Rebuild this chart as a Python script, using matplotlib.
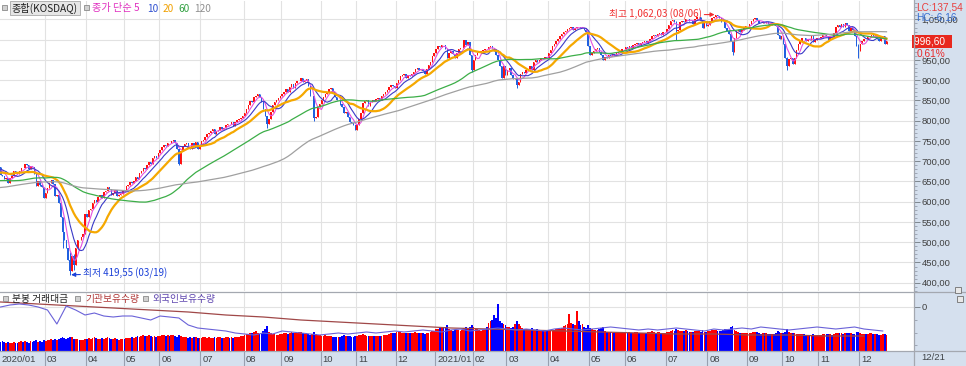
import numpy as np
import pandas as pd
import matplotlib
matplotlib.use("Agg")
import matplotlib.pyplot as plt
from matplotlib.patches import Rectangle
from matplotlib.lines import Line2D
from matplotlib.ticker import MultipleLocator, FixedLocator
from matplotlib import font_manager as fm

plt.rcParams['font.family'] = ['Noto Sans CJK KR', 'DejaVu Sans']

# ---------------- data ----------------
# closes before the first visible day (used only for the moving averages)
pre_2019_08 = [616, 615, 585, 551, 569, 568, 583, 592, 588, 578, 590, 593, 605, 612, 611, 610, 603, 584, 595, 593, 592, 602]
pre_2019_09 = [608, 615, 620, 626, 628, 630, 634, 640, 643, 635, 640, 644, 641, 633, 625, 620, 622, 627, 622]
pre_2019_10 = [613, 609, 605, 614, 618, 625, 630, 633, 640, 645, 648, 643, 645, 650, 652, 656, 660, 662, 655, 650, 652]
pre_2019_11 = [662, 667, 670, 668, 664, 661, 660, 658, 656, 650, 645, 641, 635, 638, 632, 625, 622, 628, 633, 630, 631]
pre_2019_12 = [630, 620, 615, 618, 622, 625, 628, 632, 635, 638, 640, 643, 645, 648, 652, 658, 661, 665, 668, 670]
pre_2020_01 = [674, 669, 655, 663, 640, 667, 668, 676, 680, 676, 683, 686, 683, 679, 684, 686]

# daily closes, 2020-01-28 .. 2021-12-21
c2001 = [665, 664, 655, 658]
c2002 = [645, 658, 663, 675, 672, 669, 676, 683, 682, 692, 690, 680, 688, 685, 668, 639, 651, 640, 636, 610]
c2003 = [621, 635, 646, 654, 643, 614, 617, 596, 563, 524, 505, 485, 456, 428, 467, 443, 486, 506, 505, 513, 520, 569]
c2004 = [562, 579, 581, 596, 604, 599, 612, 617, 609, 623, 626, 636, 632, 616, 622, 629, 613, 617, 619, 629]
c2005 = [628, 638, 641, 649, 645, 652, 660, 657, 670, 676, 683, 680, 691, 697, 694, 708, 712, 708, 720]
c2006 = [728, 734, 741, 737, 745, 744, 750, 752, 744, 731, 694, 725, 738, 742, 745, 733, 729, 744, 738, 748, 729, 738]
c2007 = [750, 752, 760, 767, 770, 775, 779, 768, 774, 778, 785, 779, 782, 789, 793, 791, 798, 787, 797, 801, 804, 806, 811]
c2008 = [818, 830, 838, 848, 845, 858, 862, 866, 858, 846, 830, 812, 792, 804, 822, 838, 846, 850, 856, 862]
c2009 = [866, 870, 878, 872, 884, 890, 880, 892, 897, 899, 905, 896, 897, 903, 886, 860, 862, 806, 808, 833, 842]
c2010 = [850, 858, 866, 872, 878, 880, 870, 858, 850, 852, 840, 834, 818, 822, 808, 798, 795, 790, 776]
c2011 = [790, 803, 818, 843, 848, 851, 837, 846, 851, 849, 853, 855, 852, 860, 866, 870, 875, 882, 888, 885, 880]
c2012 = [894, 900, 910, 913, 916, 906, 912, 910, 915, 920, 927, 931, 926, 928, 922, 916, 928, 937, 946, 960, 968]
c2101 = [977, 985, 981, 988, 987, 976, 955, 967, 973, 964, 954, 966, 977, 979, 979, 999, 987, 994, 963, 925]
c2102 = [950, 962, 966, 968, 972, 975, 978, 977, 982, 984, 979, 972, 962, 950, 936, 906, 936, 913]
c2103 = [924, 929, 912, 903, 905, 888, 896, 916, 921, 918, 925, 927, 936, 926, 946, 951, 944, 950, 955, 954, 958, 956]
c2104 = [966, 975, 984, 990, 996, 1002, 1008, 1014, 1018, 1022, 1026, 1029, 1031, 1024, 1030, 1032, 1031, 1028, 1030, 1024, 1020, 984]
c2105 = [962, 967, 972, 976, 980, 970, 963, 951, 958, 956, 962, 960, 965, 961, 966, 970, 972, 976, 977]
c2106 = [982, 980, 984, 979, 987, 989, 991, 988, 992, 994, 996, 993, 997, 1002, 1008, 1012, 1010, 1014, 1016, 1012, 1018, 1020]
c2107 = [1027, 1036, 1045, 1048, 1044, 1022, 1024, 1043, 1047, 1044, 1052, 1051, 1045, 1047, 1039, 1051, 1055, 1055, 1047, 1029, 1044, 1035]
c2108 = [1036, 1047, 1054, 1056, 1060, 1058, 1053, 1044, 1043, 1029, 1021, 1015, 996, 970, 1004, 1021, 1025, 1018, 1025, 1031, 1033]
c2109 = [1034, 1038, 1045, 1050, 1053, 1049, 1041, 1040, 1044, 1040, 1043, 1039, 1036, 1041, 1037, 1035, 1012, 1002, 1010]
c2110 = [990, 956, 936, 952, 955, 940, 956, 975, 990, 998, 1004, 1003, 996, 1002, 1000, 1008, 995, 1000, 1003]
c2111 = [1004, 1006, 1012, 1013, 1008, 1000, 1007, 1005, 1016, 1032, 1037, 1031, 1039, 1032, 1041, 1036, 1022, 1030, 1023, 1010, 985, 972]
c2112 = [990, 996, 1002, 1001, 1006, 1008, 1012, 1008, 1011, 1001, 998, 1004, 1008, 990.6, 996.6]

# notable intraday extremes (date, high, low)
wick_dates = ['2020-03-13', '2020-03-19', '2020-03-23', '2020-06-15', '2020-08-20', '2020-09-24',
              '2021-01-29', '2021-03-09', '2021-07-08', '2021-08-06', '2021-08-20', '2021-10-06', '2021-11-30']
wick_highs = [560, 476, 470, 730, 812, 835, 962, 903, 1045, 1062.03, 996, 957, 990]
wick_lows = [485, 419.55, 432, 690, 781, 800, 920, 880, 1000, 1055, 962, 926, 955]

# trading value (relative units)
v2001 = [9, 10, 9, 8]
v2002 = [9, 8, 8, 9, 8, 8, 9, 10, 9, 10, 9, 8, 10, 9, 10, 11, 9, 10, 9, 11]
v2003 = [10, 11, 11, 12, 11, 12, 11, 12, 13, 14, 13, 12, 13, 14, 14, 12, 12, 12, 11, 11, 11, 12]
v2004 = [12, 13, 12, 13, 14, 13, 12, 12, 13, 12, 13, 14, 13, 12, 12, 13, 12, 11, 12, 12]
v2005 = [12, 13, 13, 13, 14, 13, 14, 15, 14, 15, 16, 15, 15, 16, 15, 14, 15, 14, 15]
v2006 = [15, 16, 16, 15, 16, 15, 16, 16, 15, 14, 16, 15, 14, 14, 14, 13, 14, 13, 14, 14, 13, 13]
v2007 = [13, 14, 14, 13, 14, 13, 13, 14, 13, 14, 14, 13, 13, 14, 14, 13, 14, 13, 14, 14, 14, 15, 15]
v2008 = [16, 17, 17, 18, 18, 19, 20, 18, 17, 18, 20, 22, 25, 19, 18, 17, 17, 16, 16, 17]
v2009 = [17, 18, 18, 17, 18, 19, 18, 18, 18, 19, 19, 18, 17, 18, 17, 16, 17, 19, 17, 16, 16]
v2010 = [15, 15, 16, 15, 15, 15, 14, 14, 14, 14, 14, 15, 16, 15, 15, 15, 14, 14, 15]
v2011 = [15, 16, 16, 17, 16, 15, 15, 15, 15, 15, 15, 15, 15, 15, 16, 16, 16, 17, 18, 18, 18]
v2012 = [19, 19, 19, 18, 18, 18, 18, 18, 18, 18, 19, 18, 18, 18, 18, 17, 18, 18, 19, 20, 20]
v2101 = [22, 22, 23, 24, 23, 24, 26, 22, 21, 20, 21, 21, 21, 20, 21, 23, 24, 22, 24, 26]
v2102 = [24, 22, 22, 21, 20, 21, 22, 24, 28, 30, 31, 36, 33, 47, 30, 28, 27, 26]
v2103 = [24, 24, 23, 24, 27, 30, 27, 25, 23, 22, 22, 22, 22, 23, 21, 21, 22, 20, 20, 21, 20, 20]
v2104 = [21, 21, 20, 21, 22, 22, 22, 23, 25, 26, 27, 37, 28, 27, 26, 40, 30, 26, 27, 24, 23, 26]
v2105 = [23, 22, 21, 21, 21, 22, 23, 24, 20, 19, 19, 19, 18, 18, 18, 18, 18, 18, 18]
v2106 = [18, 18, 19, 18, 18, 19, 19, 18, 18, 18, 18, 18, 19, 19, 20, 19, 18, 19, 19, 18, 18, 18]
v2107 = [19, 19, 20, 21, 20, 22, 21, 20, 20, 20, 21, 20, 19, 19, 19, 20, 20, 20, 19, 21, 19, 19]
v2108 = [20, 20, 21, 21, 21, 20, 20, 20, 21, 22, 22, 22, 24, 25, 21, 20, 19, 18, 18, 18, 18]
v2109 = [18, 18, 18, 19, 19, 19, 18, 17, 18, 18, 18, 17, 17, 17, 17, 18, 20, 19, 18]
v2110 = [18, 19, 22, 19, 18, 18, 18, 17, 17, 17, 17, 17, 16, 16, 16, 16, 17, 16, 16]
v2111 = [16, 16, 17, 17, 17, 17, 17, 16, 17, 18, 18, 18, 18, 17, 18, 18, 18, 18, 17, 17, 19, 19]
v2112 = [18, 17, 17, 17, 17, 18, 18, 17, 17, 17, 16, 16, 17, 17, 16]

# foreign holdings, sampled every 5 trading days (relative units)
foreign_step = 5
foreign_hold = [44, 46, 47, 46, 44, 41, 27, 45, 41, 36, 38, 35, 34, 35, 35, 33, 31, 35, 34, 33,
                26, 23, 22, 21, 20, 18, 17, 16, 18, 17, 20, 19, 18,
                17, 16, 17, 18, 17, 18, 19, 18, 19, 20, 19, 20, 21, 20, 19, 21, 22, 20, 21, 22,
                23, 22, 21, 22, 21, 20, 22, 23, 22, 21, 22, 23, 24, 23, 22, 21, 22, 21, 22, 23,
                22, 21, 20, 22, 21, 22, 23, 22, 24, 23, 22, 21, 22, 23, 24, 23, 22, 23, 24, 22, 21, 20]
# institutional holdings, sampled every 20 trading days (relative units)
inst_step = 20
inst_hold = [49, 47, 45, 43, 41, 39, 36, 34, 31, 29, 27, 25, 23, 22, 21, 20, 19, 18, 17, 17, 16, 16, 15, 15]

holidays = ['2020-04-15', '2020-04-30', '2020-05-01', '2020-05-05', '2020-08-17', '2020-09-30',
            '2020-10-01', '2020-10-02', '2020-10-09', '2020-12-25', '2020-12-31',
            '2021-01-01', '2021-02-11', '2021-02-12', '2021-03-01', '2021-05-05', '2021-05-19',
            '2021-08-16', '2021-09-20', '2021-09-21', '2021-09-22', '2021-10-04', '2021-10-11']

ma_periods = [5, 10, 20, 60, 120]
ma_colors = ['#e650e0', '#3a3ac8', '#f5a800', '#3cae48', '#a0a0a0']
ma_widths = [0.8, 0.8, 1.6, 0.9, 0.9]

# ---------------- assemble ----------------
pre = pre_2019_08 + pre_2019_09 + pre_2019_10 + pre_2019_11 + pre_2019_12 + pre_2020_01
close_l = (c2001 + c2002 + c2003 + c2004 + c2005 + c2006 + c2007 + c2008 + c2009 + c2010 + c2011 + c2012 +
           c2101 + c2102 + c2103 + c2104 + c2105 + c2106 + c2107 + c2108 + c2109 + c2110 + c2111 + c2112)
vol_l = (v2001 + v2002 + v2003 + v2004 + v2005 + v2006 + v2007 + v2008 + v2009 + v2010 + v2011 + v2012 +
         v2101 + v2102 + v2103 + v2104 + v2105 + v2106 + v2107 + v2108 + v2109 + v2110 + v2111 + v2112)

dates = pd.bdate_range('2020-01-28', '2021-12-21')
dates = dates[~dates.isin(pd.to_datetime(holidays))]
N = min(len(dates), len(close_l))
dates = dates[:N]
close = np.array(close_l[:N], dtype=float)
vol = np.array((vol_l + [0] * N)[:N], dtype=float)
x = np.arange(N)

opn = np.r_[pre[-1], close[:-1]]
high = np.maximum(opn, close)
low = np.minimum(opn, close)
for d, h, l in zip(wick_dates, wick_highs, wick_lows):
    k = np.where(dates == pd.Timestamp(d))[0]
    if len(k):
        k = k[0]
        high[k] = max(high[k], h)
        low[k] = min(low[k], l)

full = pd.Series(pre + list(close))
mas = [full.rolling(p).mean().values[len(pre):] for p in ma_periods]

# ---------------- figure ----------------
W, H, DPI = 966, 366, 100
fig = plt.figure(figsize=(W / DPI, H / DPI), dpi=DPI)
fig.patch.set_facecolor('white')

names = {f.name for f in fm.fontManager.ttflist}
NUMF = 'Liberation Sans Narrow' if 'Liberation Sans Narrow' in names else 'Liberation Sans'
NUMS = 8 if NUMF == 'Liberation Sans Narrow' else 6.8

def fx(px):
    return px / W

def fy(py):
    return 1 - py / H

PANEL = '#d5e0ee'
GRID = '#e2e2e2'
UP, DN = '#ff1010', '#2060e0'
LINEC = '#a4a8b0'

fig.patches.append(Rectangle((fx(914), 0), 1 - fx(914), 1, transform=fig.transFigure,
                             facecolor=PANEL, edgecolor='none', zorder=-5))
fig.patches.append(Rectangle((0, 0), 1, 15 / H, transform=fig.transFigure,
                             facecolor=PANEL, edgecolor='none', zorder=-5))

XMIN, XMAX = -0.3, 486.65
SLOT = 914 / (XMAX - XMIN)

ax_p = fig.add_axes([0, fy(291), fx(914), 290 / H])
ax_v = fig.add_axes([0, fy(351), fx(914), 59 / H])
ax_d = fig.add_axes([0, 0, fx(914), 15 / H])
for a in (ax_p, ax_v, ax_d):
    a.set_xlim(XMIN, XMAX)
    for s in a.spines.values():
        s.set_visible(False)
    a.set_xticks([])
ax_d.set_facecolor(PANEL)
ax_d.set_yticks([])
ax_d.set_ylim(0, 1)

# month starts
per = dates.to_period('M')
starts = [0] + list(np.where(per[1:] != per[:-1])[0] + 1)
labels = []
last = -100
for s in starts:
    if s - last < 12:
        continue
    d = dates[s]
    lab = f'{d.year}/01' if (d.month == 1 or s == 0) else f'{d.month:02d}'
    labels.append((s, lab))
    last = s

# ---- price panel ----
P_LO = 400 - (291 - 282.7) / 0.405
P_HI = 400 + (282.7 - 1) / 0.405
ax_p.set_ylim(P_LO, P_HI)
yt = list(range(400, 1100, 50))
close_last = close[-1]
ax_p.set_yticks(yt)
# the 1,000 label sits fully under the last-price box, as in the original
ax_p.set_yticklabels([('' if abs(v - close_last) < 8 else f'{v:,}' + ',00') for v in yt],
                     fontfamily=NUMF, fontsize=NUMS, color='#404040')
ax_p.yaxis.tick_right()
ax_p.yaxis.set_minor_locator(MultipleLocator(10))
ax_p.tick_params(axis='y', which='major', direction='out', length=4, width=0.6, color='#707880', pad=1.5)
ax_p.tick_params(axis='y', which='minor', direction='out', length=2, width=0.5, color='#8890a0')
for v in yt:
    ax_p.axhline(v, color=GRID, lw=0.8, zorder=0)
for s, _ in labels[1:]:
    ax_p.axvline(s - 0.5, color=GRID, lw=0.8, zorder=0)
    ax_v.axvline(s - 0.5, color=GRID, lw=0.8, zorder=0)

cols = np.where(close >= opn, UP, DN)
body_lo = np.minimum(opn, close)
body_h = np.maximum(np.abs(close - opn), 0.8)
ax_p.vlines(x, low, high, colors=cols, lw=0.7, zorder=3)
ax_p.bar(x, body_h, bottom=body_lo, width=0.75, color=cols, linewidth=0, zorder=3)
for m, c, w in zip(mas, ma_colors, ma_widths):
    ax_p.plot(x, m, color=c, lw=w, zorder=4)

# high / low annotations
i_hi = int(np.argmax(high))
i_lo = int(np.argmin(low))
ax_p.annotate(f'최고 {high[i_hi]:,.2f}'.replace('.', ',') + f' ({dates[i_hi]:%m/%d})',
              xy=(i_hi - 0.6, high[i_hi]), xytext=(-13, 0), textcoords='offset pixels',
              ha='right', va='center', fontsize=7, color='#f03030', zorder=6,
              arrowprops=dict(arrowstyle='-|>', color='#f03030', lw=0.8, mutation_scale=6,
                              shrinkA=0, shrinkB=0))
ax_p.annotate(f'최저 {low[i_lo]:,.2f}'.replace('.', ',') + f' ({dates[i_lo]:%m/%d})',
              xy=(i_lo + 0.6, low[i_lo]), xytext=(12, 1.5), textcoords='offset pixels',
              ha='left', va='center', fontsize=7, color='#1a40d8', zorder=6,
              arrowprops=dict(arrowstyle='-|>', color='#1a40d8', lw=0.8, mutation_scale=6,
                              shrinkA=0, shrinkB=0))

# last price box
chg = (close[-1] / close[-2] - 1) * 100
ax_p.text(1.0, close_last, f'{close_last:,.2f}'.replace('.', ',') + '  ',
          transform=ax_p.get_yaxis_transform(), ha='left', va='center', fontsize=NUMS + 0.5,
          fontfamily=NUMF, color='white', zorder=10, clip_on=False,
          bbox=dict(boxstyle='square,pad=0.15', facecolor='#e8281e', edgecolor='none'))
fig.text(fx(917), fy(53), f'{chg:.2f}%'.replace('.', ','), fontsize=NUMS + 0.5, fontfamily=NUMF,
         color='#e82828', va='center', ha='left', zorder=10)
fig.text(fx(916), fy(7), 'LC:137,54', fontsize=NUMS + 0.5, fontfamily=NUMF, color='#e84040',
         va='center', ha='left', zorder=10)
fig.text(fx(916), fy(17), 'HC:-6,16', fontsize=NUMS + 0.5, fontfamily=NUMF, color='#3a70d0',
         va='center', ha='left', zorder=10)

# ---- volume panel ----
ax_v.set_ylim(0, 59)
ax_v.set_yticks([])
ax_v.axhline(44, color=GRID, lw=0.8, zorder=0)
vcols = np.where(close >= opn, '#ff0000', '#0000ff')
ax_v.bar(x, vol, width=0.95, color=vcols, linewidth=0, zorder=2)
ax_l = ax_v.twinx()
ax_l.set_xlim(XMIN, XMAX)
ax_l.set_ylim(0, 59)
for s in ax_l.spines.values():
    s.set_visible(False)
fi = np.arange(len(foreign_hold)) * foreign_step
ii = np.arange(len(inst_hold)) * inst_step
ax_l.plot(ii, inst_hold, color='#a04848', lw=0.9, zorder=5)
ax_l.plot(fi, foreign_hold, color='#6a62d8', lw=0.8, zorder=5)
ax_l.set_yticks([44])
ax_l.set_yticklabels(['0'], fontfamily=NUMF, fontsize=NUMS, color='#404040')
ax_l.yaxis.set_minor_locator(FixedLocator([31, 18, 6]))
ax_l.tick_params(axis='y', which='major', direction='out', length=4, width=0.6, color='#707880', pad=1.5)
ax_l.tick_params(axis='y', which='minor', direction='out', length=2, width=0.5, color='#8890a0')

# ---- date band ----
for s, lab in labels:
    if s > 0:
        ax_d.axvline(s - 0.5, color='#98a0b0', lw=0.8)
    ax_d.text(s - 0.5 + 2.0 / SLOT, 0.45, lab, fontsize=NUMS, fontfamily=NUMF, color='#404448',
              ha='left', va='center')
fig.text(fx(921), fy(358), f'{dates[-1]:%m/%d}', fontsize=NUMS, fontfamily=NUMF, color='#404448',
         ha='left', va='center')

# ---- headers ----
def square(px, py, size=5, fc='#d0d0d0', ec='#8a8a8a'):
    fig.patches.append(Rectangle((fx(px), fy(py + size)), size / W, size / H, transform=fig.transFigure,
                                 facecolor=fc, edgecolor=ec, lw=0.6, zorder=8))

square(2, 5)
fig.patches.append(Rectangle((fx(10), fy(15)), 70 / W, 14 / H, transform=fig.transFigure,
                             facecolor='#e6e6e6', edgecolor='#a8a8a8', lw=0.6, zorder=8))
fig.text(fx(12), fy(8.5), '종합(KOSDAQ)', fontsize=7.3, color='#202020', va='center', ha='left', zorder=9)
square(84, 5)
head = [(92, '종가 단순 5', '#e030c0'), (147, '10', '#3050d0'), (163, '20', '#f0a000'),
        (178, '60', '#30a040'), (194, '120', '#909090')]
for px_, t, c in head:
    fig.text(fx(px_), fy(8.5), t, fontsize=7.3, color=c, va='center', ha='left', zorder=9)

square(3, 296)
fig.text(fx(12), fy(299), '분봉 거래대금', fontsize=7, color='#202020', va='center', ha='left', zorder=9)
square(75, 296)
fig.text(fx(85), fy(299), '기관보유수량', fontsize=7, color='#b03838', va='center', ha='left', zorder=9)
square(143, 296)
fig.text(fx(152), fy(299), '외국인보유수량', fontsize=7, color='#6048b0', va='center', ha='left', zorder=9)

# small icons on the right panel
square(955, 287, size=6, fc='#e8e8e8', ec='#707070')
square(957, 296, size=6, fc='#e8e8e8', ec='#707070')

# separator lines
fig.add_artist(Line2D([fx(914), fx(914)], [0, 1], transform=fig.transFigure, color=LINEC, lw=0.9, zorder=7))
fig.add_artist(Line2D([0, 1], [fy(291.5), fy(291.5)], transform=fig.transFigure, color=LINEC, lw=0.9, zorder=7))
fig.add_artist(Line2D([0, 1], [fy(351), fy(351)], transform=fig.transFigure, color=LINEC, lw=0.9, zorder=7))

fig.savefig('out.png', dpi=DPI)
